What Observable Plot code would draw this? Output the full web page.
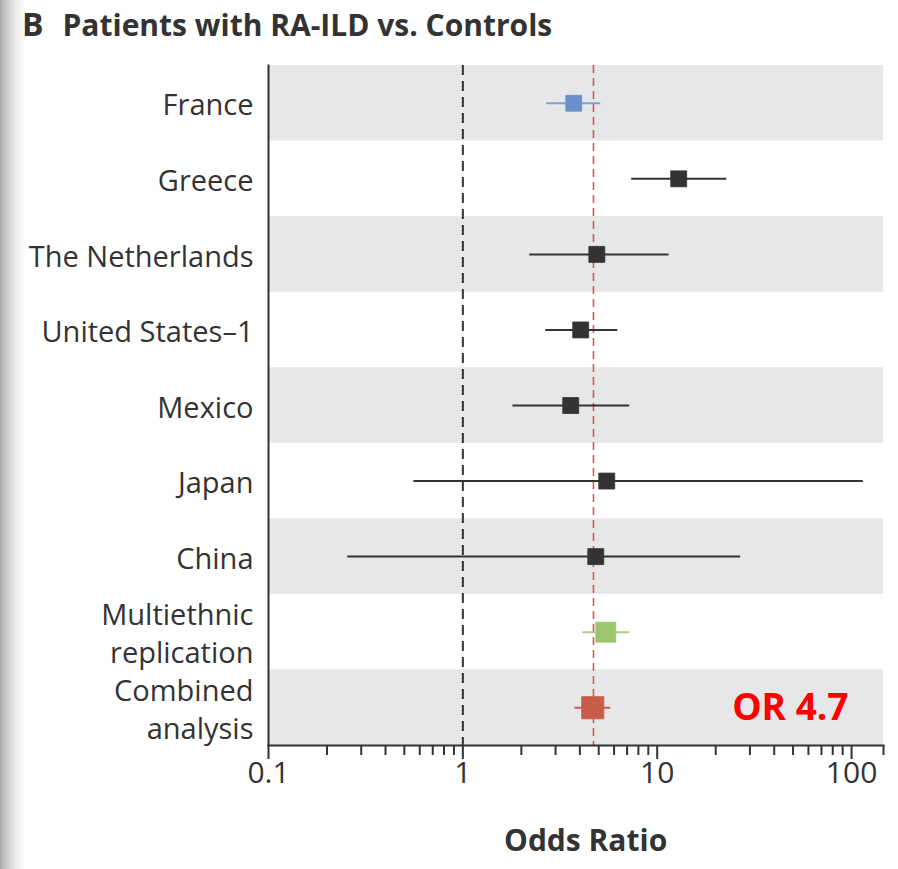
<!DOCTYPE html>
<html><head><meta charset="utf-8">
<script src="https://cdn.jsdelivr.net/npm/d3@7"></script>
<script src="https://cdn.jsdelivr.net/npm/@observablehq/plot@0.6"></script>
<style>
body{margin:0;background:#fff;width:898px;height:869px;overflow:hidden;position:relative;font-family:"Open Sans",sans-serif}
#shadow{position:absolute;left:0;top:0;width:26px;height:869px;background:linear-gradient(to right,#a8a8a8,#c4c4c4 5px,#dcdcdc 11px,#efefef 17px,#fff 26px);}
#title{position:absolute;left:22px;top:2px;font-size:30px;font-weight:bold;color:#333;white-space:nowrap}
#title .b{font-size:32px;margin-right:19px}
#xlabel{position:absolute;left:504px;top:819px;font-size:30px;font-weight:bold;color:#333;white-space:nowrap}
#chart{position:absolute;left:0;top:0}
</style></head><body>
<div id="shadow"></div>
<div id="chart"></div>
<div id="title"><span class="b">B</span>Patients with RA-ILD vs. Controls</div>
<div id="xlabel">Odds Ratio</div>
<script>
const studies = ["France","Greece","The Netherlands","United States\u20131","Mexico","Japan","China","Multiethnic\nreplication","Combined\nanalysis"];
const oddsRatio = [3.72,12.9,4.89,4.04,3.59,5.50,4.83,5.44,4.66];
const ciLow = [2.70,7.39,2.21,2.67,1.81,0.56,0.256,4.14,3.77];
const ciHigh = [5.12,22.8,11.5,6.27,7.22,115,26.9,7.22,5.77];
const groups = ["discovery","cohort","cohort","cohort","cohort","cohort","cohort","replication","combined"];
const pooledOR = 4.7;
const nullOR = 1;
const xDomain = [0.1, 146];
const majorTicks = [0.1, 1, 10, 100];
const tickLabels = ["0.1", "1", "10", "100"];
const minorTicks = [0.2,0.3,0.4,0.5,0.6,0.7,0.8,0.9,2,3,4,5,6,7,8,9,20,30,40,50,60,70,80,90];
const annotation = "OR 4.7";

const boxColor = {discovery:"#6b8fc9", cohort:"#333333", replication:"#9cc66e", combined:"#c85c49"};
const lineColor = {discovery:"#7fa0d6", cohort:"#333333", replication:"#a9d083", combined:"#c85c49"};
const boxR = {discovery:9, cohort:9, replication:11.3, combined:12.5};

const rows = studies.map((s,i)=>({study:s, or:oddsRatio[i], lo:ciLow[i], hi:ciHigh[i], group:groups[i]}));
const stripes = studies.filter((d,i)=>i%2===0);

const chart = Plot.plot({
  width: 898, height: 869,
  marginTop: 65, marginBottom: 124, marginLeft: 268, marginRight: 15,
  style: {fontFamily: "'Open Sans', sans-serif", background: "transparent", color: "#333"},
  x: {type: "log", domain: xDomain},
  y: {domain: studies, padding: 0, round: false},
  r: {type: "identity"},
  marks: [
    Plot.cell(stripes, {y: d => d, fill: "#e6e7e8"}),
    Plot.ruleX([nullOR], {stroke: "#333", strokeWidth: 2, strokeDasharray: "10,6"}),
    Plot.ruleX([pooledOR], {stroke: "#d9574a", strokeWidth: 1.6, strokeDasharray: "8,5"}),
    Plot.ruleY(rows, {y: "study", x1: "lo", x2: "hi", stroke: d => lineColor[d.group], strokeWidth: 2}),
    Plot.dot(rows, {x: "or", y: "study", symbol: "square", r: d => boxR[d.group], fill: d => boxColor[d.group], stroke: d => boxColor[d.group], strokeWidth: 0.8}),
    Plot.frame({anchor: "left", stroke: "#333", strokeWidth: 2}),
    Plot.frame({anchor: "bottom", stroke: "#333", strokeWidth: 2}),
    Plot.axisX({ticks: minorTicks, tickSize: 10, tickFormat: () => "", label: null, strokeWidth: 2}),
    Plot.axisX({ticks: [xDomain[1]], tickSize: 10, tickFormat: () => "", label: null, strokeWidth: 2}),
    Plot.axisX({ticks: majorTicks, tickSize: 14, tickFormat: () => "", label: null, strokeWidth: 2}),
    Plot.text(majorTicks, {x: d => d, text: (d, i) => tickLabels[i], frameAnchor: "bottom", dy: 37, fontSize: 30, fill: "#333"}),
    Plot.axisY({tickSize: 0, tickPadding: 15, fontSize: 29, lineHeight: 1.31, label: null}),
    Plot.text([annotation], {y: () => studies[studies.length - 1], frameAnchor: "right", dx: -35, textAnchor: "end", fill: "#ff0000", fontSize: 37, fontWeight: "bold"})
  ]
});
document.getElementById("chart").append(chart);
</script>
</body></html>
